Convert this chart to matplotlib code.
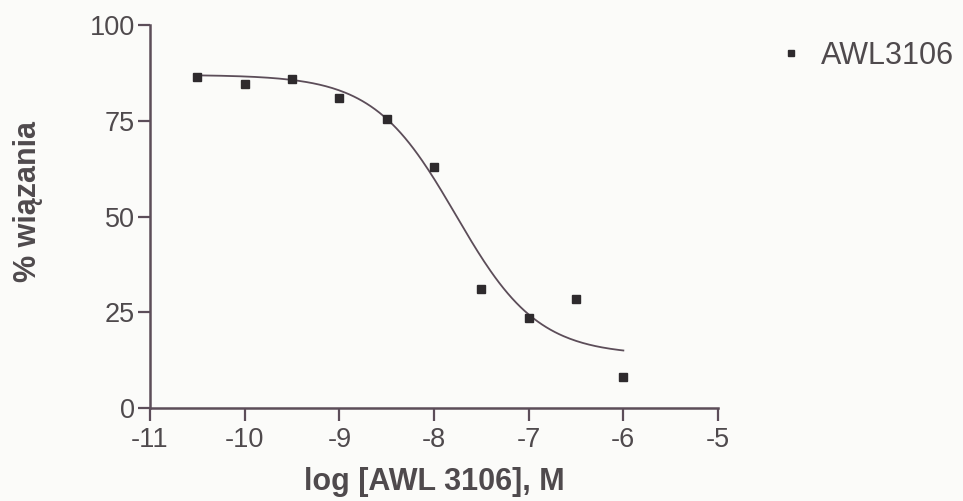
import numpy as np
import matplotlib
matplotlib.use("Agg")
import matplotlib.pyplot as plt

# measured points
log_conc = [-10.5, -10.0, -9.5, -9.0, -8.5, -8.0, -7.5, -7.0, -6.5, -6.0]
binding = [86.5, 84.5, 86.0, 81.0, 75.5, 63.0, 31.0, 23.5, 28.5, 8.0]

# one-site competition fit parameters
fit_top = 87.0
fit_bottom = 13.8
fit_log_ic50 = -7.77
fit_hill = 1.0

ink = "#5c4d59"
txt = "#4f4a4d"

plt.rcParams["font.family"] = ["Liberation Sans", "DejaVu Sans"]
plt.rcParams["axes.unicode_minus"] = False

fig = plt.figure(figsize=(9.63, 5.01), dpi=100, facecolor="#fbfbf9")
ax = fig.add_axes([0.1558, 0.1856, 0.5898, 0.7644])
ax.set_facecolor("#fbfbf9")

xs = np.linspace(log_conc[0], log_conc[-1], 200)
ys = fit_bottom + (fit_top - fit_bottom) / (1 + 10 ** ((xs - fit_log_ic50) * fit_hill))
ax.plot(xs, ys, color=ink, lw=1.3)
ax.plot(log_conc, binding, ls="none", marker="s", ms=5.5, color="#2e2a2d", label="AWL3106")

ax.set_xlim(-11, -5)
ax.set_ylim(0, 100)
ax.set_xticks(range(-11, -4))
ax.set_yticks([0, 25, 50, 75, 100])
for s in ["top", "right"]:
    ax.spines[s].set_visible(False)
for s in ["left", "bottom"]:
    ax.spines[s].set_color(ink)
    ax.spines[s].set_linewidth(1.8)
ax.tick_params(direction="out", length=9, width=1.6, color=ink, labelcolor=txt,
               labelsize=19.5)
ax.tick_params(axis="x", pad=5)
ax.tick_params(axis="y", pad=2)

ax.set_xlabel("log [AWL 3106], M", fontsize=22, fontweight="bold", color=txt, labelpad=10)
ax.set_ylabel("% wiązania", fontsize=22, fontweight="bold", color=txt)
ax.yaxis.set_label_coords(-0.188, 0.54)

ax.legend(loc="upper left", bbox_to_anchor=(1.05, 1.03), frameon=False, fontsize=22,
          labelcolor=txt, handletextpad=0.45, handlelength=1.1, markerscale=0.75)

fig.savefig("out.png", dpi=100, facecolor=fig.get_facecolor())
